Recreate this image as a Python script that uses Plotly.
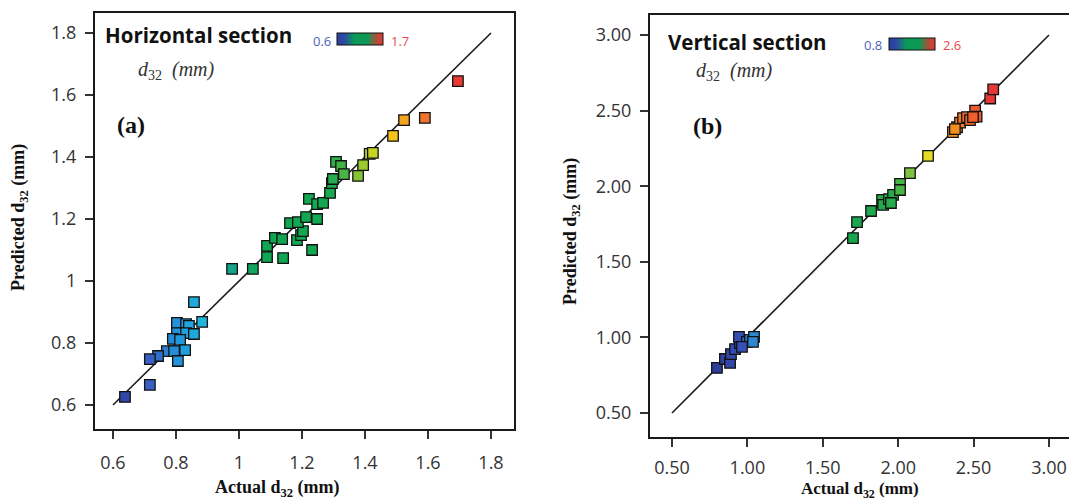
import plotly.graph_objects as go

# ---- (a) horizontal section: actual vs predicted Sauter mean diameter d32 (mm)
actual_h = [0.638, 0.717, 0.857, 0.803, 0.832, 0.841, 0.883, 0.803, 0.832, 0.857,
            0.790, 0.813, 0.771, 0.794, 0.829, 0.743, 0.717, 0.806,
            0.978, 1.044, 1.140, 1.232, 1.089, 1.089, 1.114, 1.137, 1.184, 1.197,
            1.203, 1.162, 1.187, 1.213, 1.248, 1.222, 1.248, 1.267, 1.289, 1.295,
            1.298, 1.308, 1.324, 1.333, 1.378, 1.394, 1.415, 1.425,
            1.489, 1.524, 1.590, 1.695]
predicted_h = [0.626, 0.665, 0.932, 0.865, 0.861, 0.855, 0.868, 0.832, 0.832, 0.829,
               0.813, 0.810, 0.774, 0.774, 0.777, 0.758, 0.748, 0.742,
               1.039, 1.039, 1.074, 1.100, 1.077, 1.113, 1.139, 1.135, 1.132, 1.148,
               1.161, 1.187, 1.190, 1.206, 1.200, 1.265, 1.248, 1.252, 1.284, 1.316,
               1.329, 1.384, 1.371, 1.345, 1.339, 1.374, 1.410, 1.413,
               1.468, 1.519, 1.526, 1.645]

# ---- (b) vertical section
actual_v = [0.798, 0.851, 0.885, 0.891, 0.918, 0.951, 0.944, 0.997, 1.017, 1.044,
            1.037, 0.964,
            1.700, 1.727, 1.820, 1.893, 1.900, 1.939, 1.966, 1.952, 2.012, 2.012,
            2.078, 2.198,
            2.363, 2.390, 2.410, 2.376, 2.430, 2.456, 2.476, 2.510, 2.520, 2.496,
            2.610, 2.630]
predicted_v = [0.798, 0.857, 0.831, 0.890, 0.923, 0.963, 1.003, 0.970, 0.983, 1.003,
               0.970, 0.937,
               1.657, 1.763, 1.836, 1.909, 1.876, 1.915, 1.942, 1.889, 2.015, 1.975,
               2.087, 2.200,
               2.358, 2.390, 2.420, 2.378, 2.450, 2.457, 2.437, 2.500, 2.460, 2.457,
               2.580, 2.640]

# reference (y = x) lines
diag_h = [0.6, 1.8]
diag_v = [0.5, 3.0]

# colour ranges of the two legends
crange_h = [0.6, 1.7]
crange_v = [0.8, 2.6]

ticks_h = [0.6, 0.8, 1.0, 1.2, 1.4, 1.6, 1.8]
ticks_v = [0.5, 1.0, 1.5, 2.0, 2.5, 3.0]

W, H = 1069, 502

scale_h = [[0.0, '#2e3d99'], [0.10, '#3a5cc0'], [0.19, '#2196dc'], [0.26, '#20b6dc'],
           [0.34, '#14a58e'], [0.42, '#10a552'], [0.62, '#14a852'], [0.68, '#5cb840'],
           [0.75, '#c6d424'], [0.81, '#f4c41a'], [0.85, '#f39a22'], [0.91, '#ef6a30'],
           [1.0, '#e53935']]
scale_v = [[0.0, '#2e3d99'], [0.09, '#3650b5'], [0.13, '#2f86d0'], [0.20, '#2296dc'],
           [0.30, '#18aab0'], [0.42, '#10a552'], [0.65, '#28aa4a'], [0.72, '#8cc63f'],
           [0.78, '#e9dc22'], [0.84, '#f4b21c'], [0.88, '#f08a24'], [0.94, '#ee6030'],
           [1.0, '#e53935']]
scale_key = [[0.0, '#2b3f9e'], [0.15, '#2c48a6'], [0.38, '#0b9a55'], [0.66, '#0b9a55'],
             [0.85, '#a8503a'], [1.0, '#e53935']]


def px_x(p):
    return p / W


def px_y(p):
    return 1 - p / H


fig = go.Figure()

for xa, ya, diag in (('x', 'y', diag_h), ('x2', 'y2', diag_v)):
    fig.add_trace(go.Scatter(x=diag, y=diag, mode='lines', xaxis=xa, yaxis=ya,
                             line=dict(color='#1a1a1a', width=1.6),
                             hoverinfo='skip', showlegend=False))

fig.add_trace(go.Scatter(
    x=actual_h, y=predicted_h, mode='markers', xaxis='x', yaxis='y', showlegend=False,
    marker=dict(symbol='square', size=10.5, color=actual_h, colorscale=scale_h,
                cmin=crange_h[0], cmax=crange_h[1],
                line=dict(color='#111111', width=1.3))))
fig.add_trace(go.Scatter(
    x=actual_v, y=predicted_v, mode='markers', xaxis='x2', yaxis='y2', showlegend=False,
    marker=dict(symbol='square', size=10.5, color=actual_v, colorscale=scale_v,
                cmin=crange_v[0], cmax=crange_v[1],
                line=dict(color='#111111', width=1.3))))

# small colour keys
for xa, ya, cr, x0, y0 in (('x', 'y', crange_h, 337, 46), ('x2', 'y2', crange_v, 889, 51)):
    fig.add_trace(go.Scatter(
        x=[None], y=[None], mode='markers', xaxis=xa, yaxis=ya, showlegend=False,
        hoverinfo='skip',
        marker=dict(color=cr, colorscale=scale_key, cmin=cr[0], cmax=cr[1],
                    showscale=True,
                    colorbar=dict(orientation='h', lenmode='pixels', len=46,
                                  thickness=12, x=px_x(x0), xanchor='left',
                                  y=px_y(y0), yanchor='bottom',
                                  xpad=0, ypad=0, outlinecolor='#111111',
                                  outlinewidth=1, showticklabels=False, ticks='',
                                  tickmode='array', tickvals=[]))))

tickfont = dict(family='Open Sans, Noto Sans, sans-serif', size=18, color='#333333')
common = dict(showgrid=False, zeroline=False, showline=True, linecolor='#1a1a1a',
              linewidth=2, ticks='outside', ticklen=8, tickwidth=1.5,
              tickcolor='#333333', tickfont=tickfont)

fig.update_layout(
    width=W, height=H, margin=dict(l=0, r=0, t=0, b=0),
    paper_bgcolor='white', plot_bgcolor='white',
    xaxis=dict(domain=[95 / W, 514 / W], range=[0.54286, 1.87302], tickvals=ticks_h,
               anchor='y', mirror=True, ticklabelstandoff=8, **common),
    yaxis=dict(domain=[px_y(429), px_y(13)], range=[0.52258, 1.86452], tickvals=ticks_h,
               anchor='x', mirror=True, ticklabelstandoff=5, **common),
    xaxis2=dict(domain=[650 / W, 1.0], range=[0.35411, 3.13263], tickvals=ticks_v,
                tickformat='.2f', anchor='y2', mirror=True, ticklabelstandoff=5, **common),
    yaxis2=dict(domain=[px_y(437), px_y(15)], range=[0.34127, 3.13227], tickvals=ticks_v,
                tickformat='.2f', anchor='x2', mirror=False, ticklabelstandoff=5, **common),
)

serif = 'Liberation Serif, Times New Roman, serif'
sans = 'Open Sans, Noto Sans, sans-serif'
notes = [
    # panel titles
    dict(text='<b>Horizontal section</b>', x=104, y=35, xanchor='left',
         font=dict(family=sans, size=20.5, color='#111111')),
    dict(text='<b>Vertical section</b>', x=667, y=42, xanchor='left',
         font=dict(family=sans, size=20.5, color='#111111')),
    # key end values
    dict(text='0.6', x=332, y=41, xanchor='right',
         font=dict(family=sans, size=13, color='#4a64b8')),
    dict(text='1.7', x=390, y=41, xanchor='left',
         font=dict(family=sans, size=13, color='#e8474a')),
    dict(text='0.8', x=883, y=45, xanchor='right',
         font=dict(family=sans, size=13, color='#4a64b8')),
    dict(text='2.6', x=942, y=45, xanchor='left',
         font=dict(family=sans, size=13, color='#e8474a')),
    # response name
    dict(text='<i>d</i><sub>32</sub><i>  (mm)</i>', x=137, y=70, xanchor='left',
         font=dict(family=serif, size=20, color='#333333')),
    dict(text='<i>d</i><sub>32</sub><i>  (mm)</i>', x=695, y=72, xanchor='left',
         font=dict(family=serif, size=20, color='#333333')),
    # panel letters
    dict(text='<b>(a)</b>', x=116, y=125, xanchor='left',
         font=dict(family=serif, size=24, color='#111111')),
    dict(text='<b>(b)</b>', x=692, y=126, xanchor='left',
         font=dict(family=serif, size=24, color='#111111')),
    # axis titles
    dict(text='<b>Actual d<sub>32</sub> (mm)</b>', x=277, y=488,
         font=dict(family=serif, size=18, color='#111111')),
    dict(text='<b>Actual d<sub>32</sub> (mm)</b>', x=860, y=490,
         font=dict(family=serif, size=17, color='#111111')),
    dict(text='<b>Predicted d<sub>32</sub> (mm)</b>', x=19, y=218, textangle=-90,
         font=dict(family=serif, size=18, color='#111111')),
    dict(text='<b>Predicted d<sub>32</sub> (mm)</b>', x=571, y=232, textangle=-90,
         font=dict(family=serif, size=18, color='#111111')),
]
for n in notes:
    n = dict(n)
    n['x'] = px_x(n['x'])
    n['y'] = px_y(n['y'])
    n.setdefault('xanchor', 'center')
    fig.add_annotation(xref='paper', yref='paper', yanchor='middle', showarrow=False,
                       borderpad=0, **n)

fig.write_html('out.html')
